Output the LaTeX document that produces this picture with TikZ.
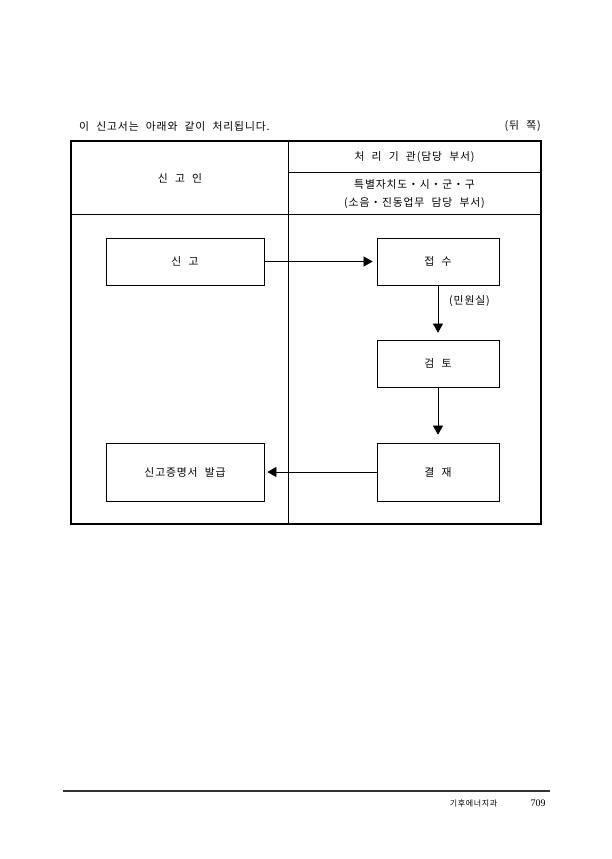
\documentclass[tikz,border=0pt]{standalone}
\usepackage{fontspec}
\setmainfont{Noto Sans CJK KR}[LetterSpace=8,WordSpace=2.2]
\newfontfamily\numfont{Liberation Serif}
\usetikzlibrary{arrows.meta}
\begin{document}
\begin{tikzpicture}[x=1pt,y=-1pt,
  every node/.style={font=\fontsize{10.8}{12}\selectfont, inner sep=0pt},
  procbox/.style={draw, line width=0.7pt, inner sep=0pt},
  flow/.style={line width=0.6pt, -{Triangle[length=9pt,width=10pt]}},
  frame/.style={line width=1.8pt},
  divider/.style={line width=0.8pt}]
\useasboundingbox (0,0) rectangle (612,859);
% heading line
\node[anchor=west] (title) at (79,126) {이 신고서는 아래와 같이 처리됩니다.};
\node[anchor=east] (side) at (541,126) {(뒤 쪽)};
% table frame
\draw[frame] (71,141) rectangle (541,524);
\draw[divider] (288,141) -- (288,524);
\draw[divider] (71,214) -- (541,214);
\draw[divider] (288,172) -- (541,172);
% header texts
\node (hleft) at (180,178) {신 고 인};
\node (hright) at (414.5,157) {처 리 기 관(담당 부서)};
\node (hsub1) at (414.5,184) {특별자치도・시・군・구};
\node (hsub2) at (414.5,203) {(소음・진동업무 담당 부서)};
% process boxes
\node[procbox, minimum width=158pt, minimum height=47pt] (report) at (185,261.5) {신 고};
\node[procbox, minimum width=122pt, minimum height=47pt] (receive) at (438,261.5) {접 수};
\node[procbox, minimum width=122pt, minimum height=47pt] (review) at (438,363.5) {검 토};
\node[procbox, minimum width=122pt, minimum height=58pt] (approve) at (438,472) {결 재};
\node[procbox, minimum width=158pt, minimum height=58pt] (issue) at (185,472) {신고증명서 발급};
% connectors
\draw[flow, shorten >=4pt] (report) -- (receive);
\draw[flow, shorten >=7pt] (receive) -- (review);
\draw[flow, shorten >=8pt] (review) -- (approve);
\draw[flow, shorten >=3pt] (approve) -- (issue);
\node (office) at (469.5,301) {(민원실)};
% footer
\draw[line width=2.6pt, color=black!80] (63,791) -- (550,791);
\node[font=\fontsize{8}{9}\selectfont] (dept) at (473.5,803) {기후에너지과};
\node[font=\numfont\fontsize{10}{12}\selectfont] (page) at (538,803) {709};
\end{tikzpicture}
\end{document}
